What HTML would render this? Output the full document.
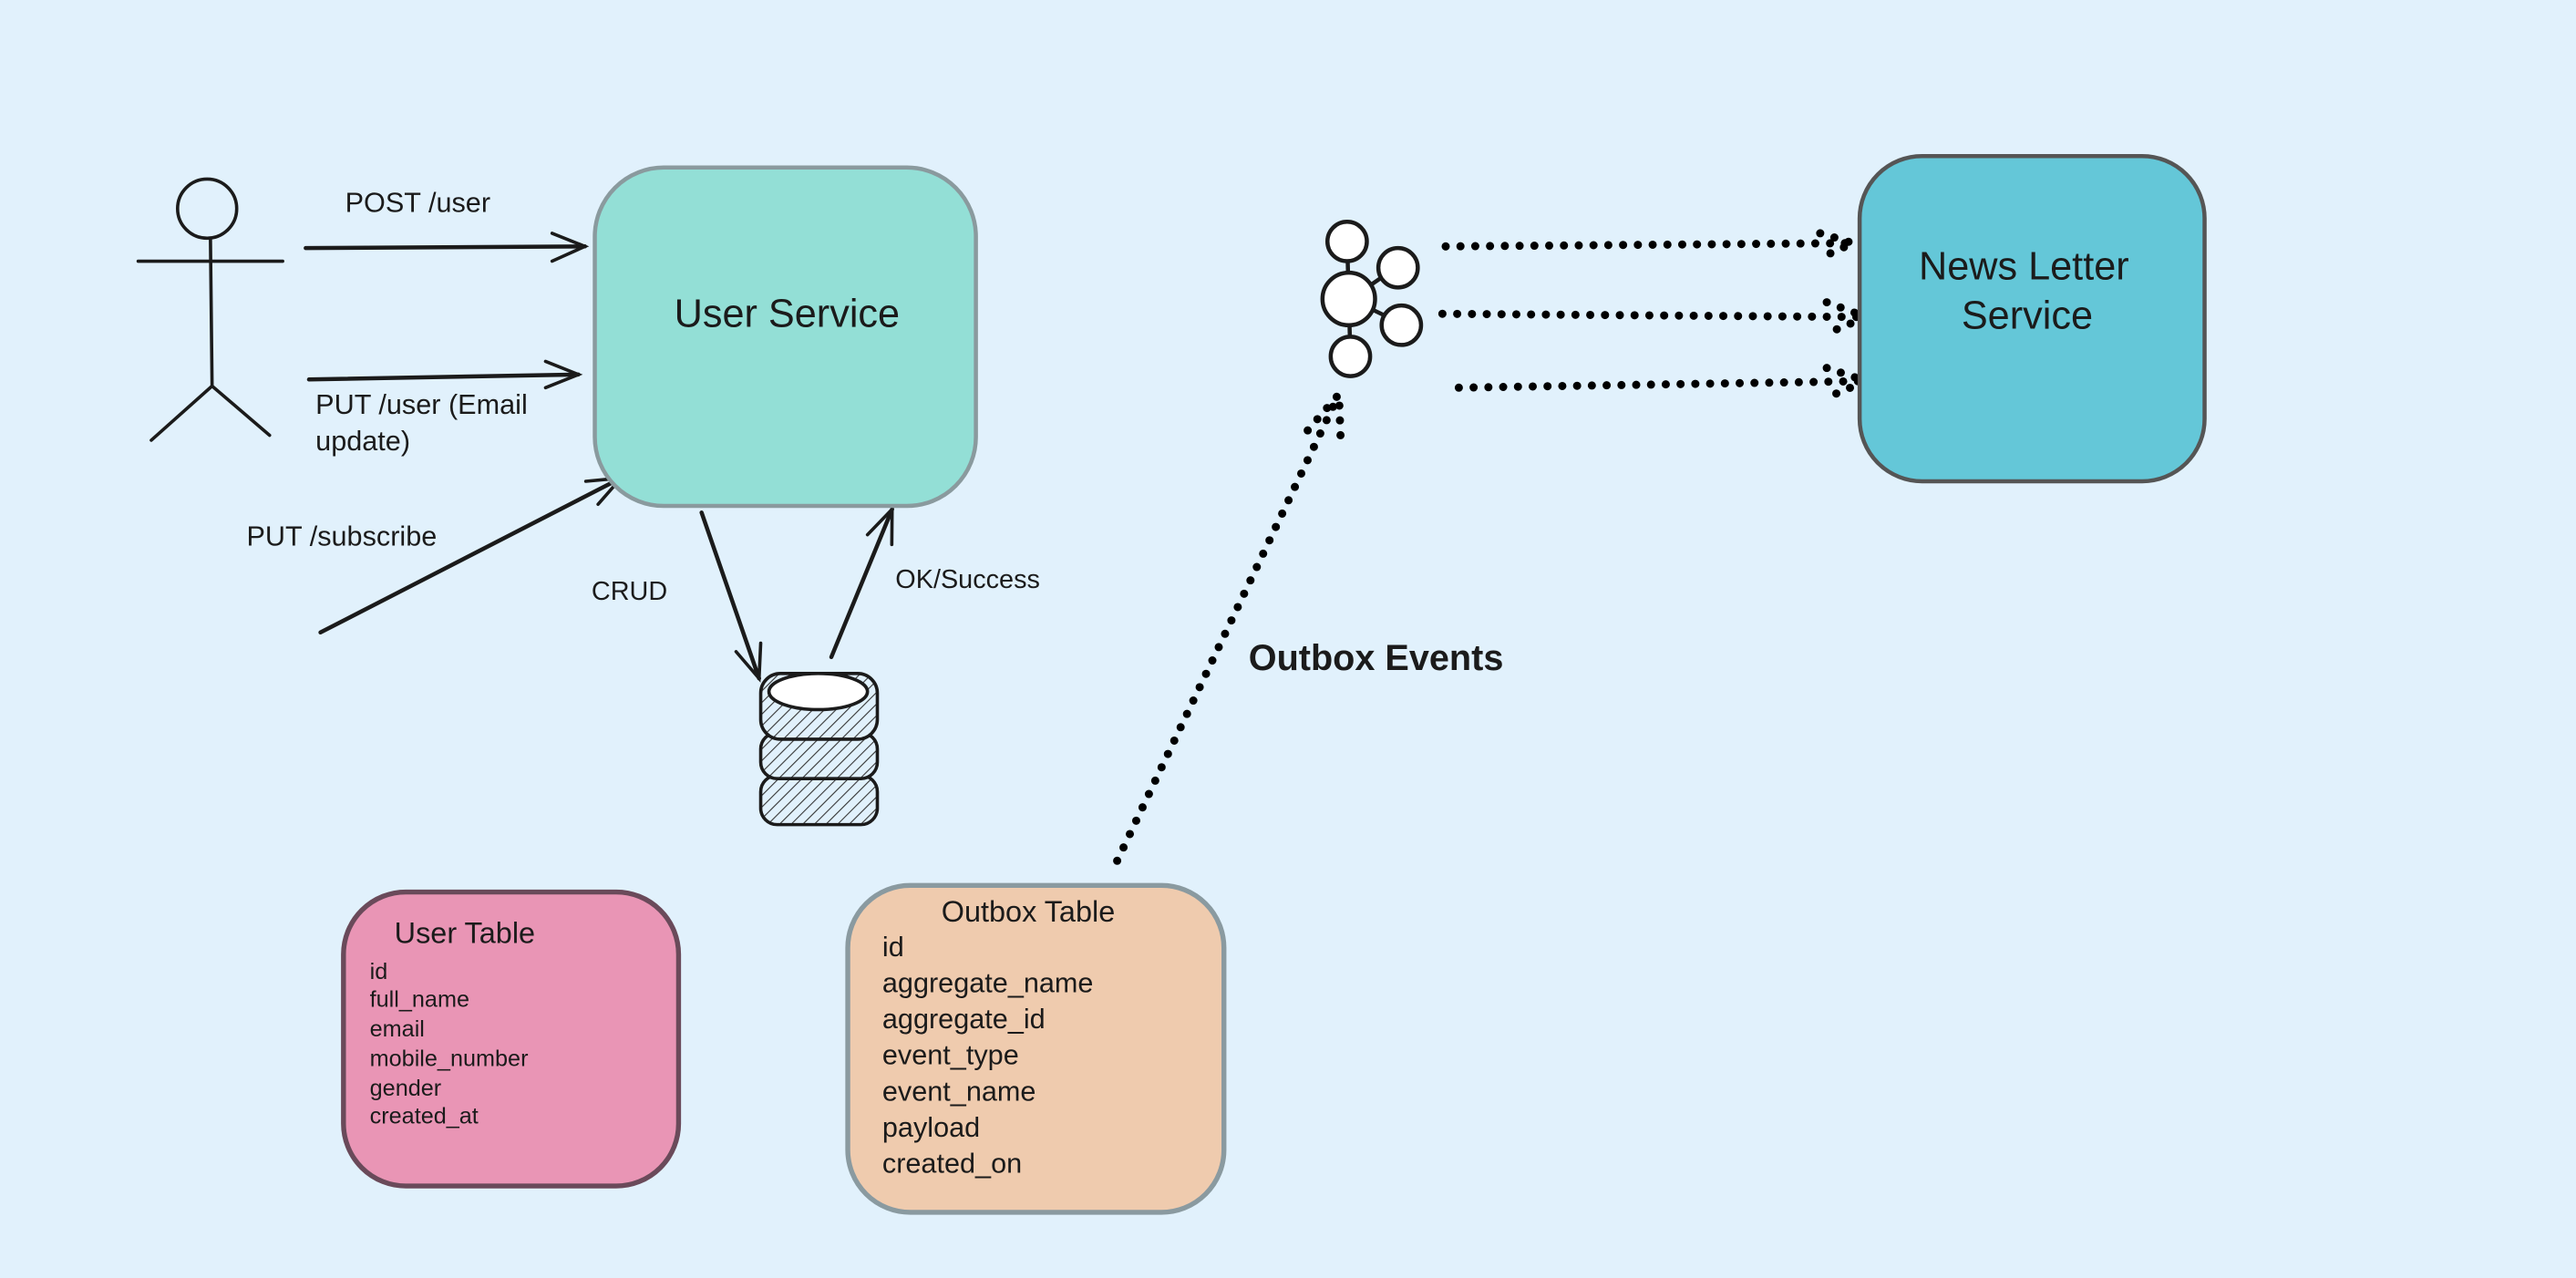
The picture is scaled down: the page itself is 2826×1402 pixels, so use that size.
<!DOCTYPE html>
<html><head><meta charset="utf-8"><style>
html,body{margin:0;padding:0;background:#e1f1fc;}
svg{display:block;}
text{font-family:"Liberation Sans",sans-serif;fill:#1b1b1b;}
</style></head><body>
<svg width="2826" height="1402" viewBox="0 0 1568 778" xmlns="http://www.w3.org/2000/svg">
<defs>
<pattern id="h" width="5" height="5" patternUnits="userSpaceOnUse" patternTransform="rotate(45)">
<rect width="5" height="5" fill="#e1f1fc"/><line x1="0" y1="0" x2="0" y2="5" stroke="#333" stroke-width="1.2"/></pattern>
</defs>
<rect width="1568" height="778" fill="#e1f1fc"/>
<g stroke="#1b1b1b" stroke-width="2" fill="none" stroke-linecap="round">
<circle cx="126" cy="127" r="18"/>
<line x1="128" y1="145" x2="129" y2="235"/>
<line x1="84" y1="159" x2="172" y2="159"/>
<line x1="129" y1="235" x2="92" y2="268"/>
<line x1="129" y1="235" x2="164" y2="265"/>
<line x1="186" y1="151" x2="356" y2="150" stroke-width="2.5"/>
<polyline points="336,142 356,150 336,159"/>
<line x1="188" y1="231" x2="352" y2="228" stroke-width="2.5"/>
<polyline points="332,220 352,228 332,236"/>
<line x1="195" y1="385" x2="378" y2="291" stroke-width="2.5"/>
<polyline points="356.5,293 378,291 364,307"/>
<line x1="427" y1="312" x2="462" y2="413" stroke-width="2.5"/>
<polyline points="448,396.7 462,413 463,391.5"/>
<line x1="506" y1="400" x2="543" y2="310" stroke-width="2.5"/>
<polyline points="528,325.5 543,310 542.8,331.5"/>
</g>
<rect x="362" y="102" width="232" height="206" rx="42" fill="#93dfd6" stroke="#8a9a9e" stroke-width="2.5"/>
<text x="479" y="199" font-size="24" text-anchor="middle">User Service</text>
<text x="210" y="129" font-size="17">POST /user</text>
<text x="192" y="252" font-size="17">PUT /user (Email</text>
<text x="192" y="274" font-size="17">update)</text>
<text x="150" y="332" font-size="17">PUT /subscribe</text>
<text x="360" y="365" font-size="16">CRUD</text>
<text x="545" y="358" font-size="16">OK/Success</text>
<g stroke="#1b1b1b" stroke-width="2">
<rect x="463" y="472" width="71" height="30" rx="10" fill="url(#h)"/>
<rect x="463" y="446" width="71" height="28" rx="10" fill="url(#h)"/>
<rect x="463" y="410" width="71" height="40" rx="12" fill="url(#h)"/>
<ellipse cx="498" cy="421" rx="30" ry="11" fill="#fff"/>
</g>
<rect x="209" y="543" width="204" height="179" rx="38" fill="#e995b5" stroke="#6a4a5a" stroke-width="3"/>
<text x="240" y="574" font-size="18">User Table</text>
<g font-size="14"><text x="225" y="596">id</text><text x="225" y="613">full_name</text><text x="225" y="631">email</text><text x="225" y="649">mobile_number</text><text x="225" y="667">gender</text><text x="225" y="684">created_at</text></g>
<rect x="516" y="539" width="229" height="199" rx="38" fill="#efcbae" stroke="#8a9aa0" stroke-width="3"/>
<text x="573" y="561" font-size="18">Outbox Table</text>
<g font-size="17"><text x="537" y="582">id</text><text x="537" y="604">aggregate_name</text><text x="537" y="626">aggregate_id</text><text x="537" y="648">event_type</text><text x="537" y="670">event_name</text><text x="537" y="692">payload</text><text x="537" y="714">created_on</text></g>
<g stroke="#1b1b1b" stroke-width="2.5" fill="#fff">
<line x1="820" y1="147" x2="822" y2="217"/><line x1="822" y1="182" x2="851" y2="162"/><line x1="822" y1="182" x2="853" y2="197"/>
<circle cx="820" cy="147" r="12"/><circle cx="851" cy="163" r="12"/><circle cx="821" cy="182" r="16"/><circle cx="853" cy="198" r="12"/><circle cx="822" cy="217" r="12"/>
</g>
<g stroke="#000" stroke-width="5" stroke-linecap="round" stroke-dasharray="0 9" fill="none">
<line x1="880" y1="150" x2="1128" y2="148"/>
<line x1="878" y1="191" x2="1136" y2="193"/>
<line x1="888" y1="236" x2="1136" y2="232"/>
<line x1="680" y1="524" x2="815" y2="240"/>
<polyline points="1108,142 1128,148 1108,157"/>
<polyline points="1112,184 1136,193 1112,203"/>
<polyline points="1112,224 1136,232 1112,242"/>
<polyline points="796,262 815,240 816,266"/>
</g>
<text x="760" y="408" font-size="22" font-weight="bold">Outbox Events</text>
<rect x="1132" y="95" width="210" height="198" rx="38" fill="#64c7d8" stroke="#555" stroke-width="2.5"/>
<text x="1232" y="170" font-size="24" text-anchor="middle">News Letter</text>
<text x="1234" y="200" font-size="24" text-anchor="middle">Service</text>
</svg>
</body></html>
